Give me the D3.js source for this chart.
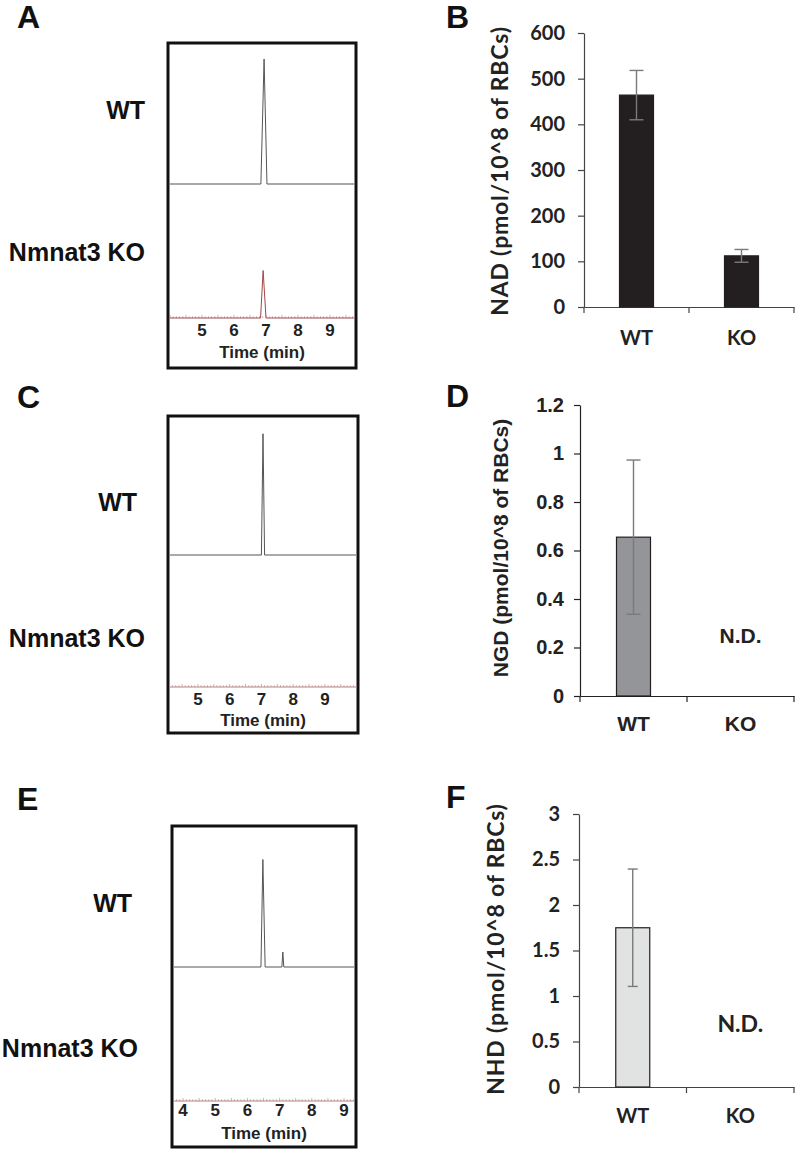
<!DOCTYPE html>
<html><head><meta charset="utf-8">
<script src="https://cdn.jsdelivr.net/npm/d3@7"></script>
<style>html,body{margin:0;padding:0;background:#fff;}svg{display:block;}</style>
</head><body>
<svg id="fig" width="795" height="1150"></svg>
<script>
// ---------------- DATA ----------------
// Chromatogram traces: [time (min), relative intensity (%)]
const traceA_WT = [[4.0,0],[6.84,0],[6.94,100],[7.03,0],[9.75,0]];
const traceA_KO = [[4.0,0],[6.83,0],[6.91,38],[7.0,0],[9.75,0]];
const traceC_WT = [[4.12,0],[7.0,0],[7.05,97],[7.1,0],[9.98,0]];
const traceC_KO = [[4.12,0],[9.98,0]];
const traceE_WT = [[3.72,0],[6.42,0],[6.48,86],[6.55,0],[7.07,0],[7.1,12],[7.13,0],[9.31,0]];
const traceE_KO = [[3.72,0],[9.31,0]];
const timeTicksA = [5,6,7,8,9];
const timeTicksC = [5,6,7,8,9];
const timeTicksE = [4,5,6,7,8,9];
const rowLabels = ["WT","Nmnat3 KO"];
const timeTitle = "Time (min)";

// Bar charts
const groups = ["WT","KO"];
const nadMean = [464, 112];
const nadErr  = [54, 14];
const ngdMean = [0.655, null];
const ngdErr  = [0.318, null];
const nhdMean = [1.75, null];
const nhdErr  = [0.645, null];
const nadTicks = [0,100,200,300,400,500,600];
const ngdTicks = [0,0.2,0.4,0.6,0.8,1,1.2];
const nhdTicks = [0,0.5,1,1.5,2,2.5,3];
const ndLabel = "N.D.";
const panelLetters = ["A","B","C","D","E","F"];

// ---------------- DRAW ----------------
const svg = d3.select("#fig");
const ARIAL = "'Liberation Sans', Arial, sans-serif";
const CALI = "Lato, 'Open Sans', sans-serif";

function letter(t, x, y){
  svg.append("text").attr("x",x).attr("y",y).text(t)
    .attr("font-family",ARIAL).attr("font-weight","bold").attr("font-size",32).attr("fill","#111");
}
letter(panelLetters[0],17,28);
letter(panelLetters[1],446,28);
letter(panelLetters[2],17,408);
letter(panelLetters[3],446,407);
letter(panelLetters[4],17,810);
letter(panelLetters[5],446,808);

let clipId = 0;
function chromatogram(cfg){
  const g = svg.append("g");
  const x = d3.scaleLinear().domain(cfg.domain).range([cfg.left+2, cfg.right-2]);
  const id = "clip"+(clipId++);
  g.append("clipPath").attr("id",id).append("rect")
    .attr("x",cfg.left+1.5).attr("y",cfg.top+1.5)
    .attr("width",cfg.right-cfg.left-3).attr("height",cfg.bottom-cfg.top-3);
  const inner = g.append("g").attr("clip-path",`url(#${id})`);
  const rows = [
    {data: cfg.wt, base: cfg.wtBase, color:"#555", minor:false},
    {data: cfg.ko, base: cfg.koBase, color: cfg.koColor, minor:true}
  ];
  rows.forEach(r=>{
    const y = d3.scaleLinear().domain([0,100]).range([r.base, r.base-125]);
    if(r.minor){
      const mt = d3.range(Math.ceil(cfg.domain[0]*10), Math.floor(cfg.domain[1]*10)+1).map(v=>v/10);
      inner.selectAll(null).data(mt).join("line")
        .attr("x1",d=>x(d)).attr("x2",d=>x(d))
        .attr("y1",r.base).attr("y2",d=>r.base-(Math.round(d*10)%5===0?3:1.8))
        .attr("stroke","#c49a9a").attr("stroke-width",0.8);
    }
    inner.append("path").datum(r.data)
      .attr("d", d3.line().x(d=>x(d[0])).y(d=>y(d[1])))
      .attr("fill","none").attr("stroke",r.color).attr("stroke-width",1)
      .attr("stroke-linejoin","round");
  });
  inner.selectAll(null).data(cfg.ticks).join("text")
    .attr("x",d=>x(d)).attr("y",cfg.tickY).attr("text-anchor","middle")
    .attr("dominant-baseline","central")
    .attr("font-family",ARIAL).attr("font-weight","bold").attr("font-size",17).attr("fill","#222")
    .text(d=>d);
  g.append("text").attr("x",(cfg.left+cfg.right)/2).attr("y",cfg.titleY)
    .attr("text-anchor","middle").attr("dominant-baseline","central")
    .attr("font-family",ARIAL).attr("font-weight","bold").attr("font-size",17).attr("fill","#222")
    .text(timeTitle);
  g.append("rect").attr("x",cfg.left).attr("y",cfg.top)
    .attr("width",cfg.right-cfg.left).attr("height",cfg.bottom-cfg.top)
    .attr("fill","none").attr("stroke","#111").attr("stroke-width",3);
  g.append("text").attr("x",cfg.wtLX).attr("y",cfg.wtLY).attr("text-anchor","end")
    .attr("dominant-baseline","central")
    .attr("font-family",ARIAL).attr("font-weight","bold").attr("font-size",25).attr("fill","#111")
    .text(rowLabels[0]);
  g.append("text").attr("x",cfg.koLX).attr("y",cfg.koLY).attr("text-anchor","end")
    .attr("dominant-baseline","central")
    .attr("font-family",ARIAL).attr("font-weight","bold").attr("font-size",25).attr("fill","#111")
    .text(rowLabels[1]);
}

chromatogram({left:168,right:356,top:43,bottom:368,domain:[4.0,9.75],wt:traceA_WT,ko:traceA_KO,
  wtBase:184,koBase:318,koColor:"#a04848",ticks:timeTicksA,tickY:330,titleY:352,
  wtLX:145,wtLY:110,koLX:145,koLY:252});
chromatogram({left:168,right:358,top:416,bottom:733,domain:[4.12,9.98],wt:traceC_WT,ko:traceC_KO,
  wtBase:555,koBase:687,koColor:"#b98080",ticks:timeTicksC,tickY:699,titleY:720,
  wtLX:137,wtLY:502,koLX:145,koLY:638});
chromatogram({left:172,right:356,top:826,bottom:1147,domain:[3.72,9.31],wt:traceE_WT,ko:traceE_KO,
  wtBase:967,koBase:1101,koColor:"#b98080",ticks:timeTicksE,tickY:1110,titleY:1133,
  wtLX:132,wtLY:903,koLX:138,koLY:1048});

function barChart(cfg){
  const g = svg.append("g");
  const x = d3.scaleBand().domain(groups).range([cfg.x0, cfg.x1]);
  const y = d3.scaleLinear().domain([0, cfg.max]).range([cfg.y0, cfg.yTop]);
  const bw = 34;
  const yAxis = d3.axisLeft(y).tickValues(cfg.ticks).tickFormat(d=>String(d))
    .tickSize(6).tickPadding(cfg.tickPad).tickSizeOuter(0);
  const ya = g.append("g").attr("transform",`translate(${cfg.x0},0)`).call(yAxis);
  ya.select(".domain").attr("stroke",cfg.axisColor).attr("stroke-width",1.2);
  ya.selectAll(".tick line").attr("stroke",cfg.axisColor).attr("stroke-width",1.2);
  ya.selectAll(".tick text").attr("font-family",cfg.font).attr("font-weight","bold")
    .attr("font-size",cfg.tickFont).attr("fill","#222");
  const xAxis = d3.axisBottom(x).tickSize(0).tickPadding(cfg.xPad).tickSizeOuter(0);
  const xa = g.append("g").attr("transform",`translate(0,${cfg.y0})`).call(xAxis);
  xa.select(".domain").attr("stroke",cfg.axisColor).attr("stroke-width",1.2);
  xa.selectAll(".tick text").attr("font-family",cfg.font).attr("font-weight","bold")
    .attr("font-size",cfg.catFont).attr("fill","#222");
  const edges = groups.map(d=>x(d)).concat([x(groups[groups.length-1])+x.bandwidth()]);
  g.selectAll(null).data(edges).join("line")
    .attr("x1",d=>d).attr("x2",d=>d).attr("y1",cfg.y0).attr("y2",cfg.y0+6)
    .attr("stroke",cfg.axisColor).attr("stroke-width",1.2);
  const rows = groups.map((k,i)=>({k, v:cfg.mean[i], e:cfg.err[i]}));
  g.selectAll(null).data(rows.filter(d=>d.v!==null)).join("rect")
    .attr("x",d=>x(d.k)+x.bandwidth()/2-bw/2).attr("width",bw)
    .attr("y",d=>y(d.v)).attr("height",d=>y(0)-y(d.v))
    .attr("fill",cfg.fill).attr("stroke","#231f20").attr("stroke-width",1.2);
  const eb = g.selectAll(null).data(rows.filter(d=>d.v!==null)).join("g");
  eb.append("line").attr("x1",d=>x(d.k)+x.bandwidth()/2).attr("x2",d=>x(d.k)+x.bandwidth()/2)
    .attr("y1",d=>y(d.v+d.e)).attr("y2",d=>y(d.v-d.e)).attr("stroke","#7a7a7a").attr("stroke-width",1.4);
  [1,-1].forEach(s=>{
    eb.append("line").attr("x1",d=>x(d.k)+x.bandwidth()/2-cfg.cap).attr("x2",d=>x(d.k)+x.bandwidth()/2+cfg.cap)
      .attr("y1",d=>y(d.v+s*d.e)).attr("y2",d=>y(d.v+s*d.e)).attr("stroke","#7a7a7a").attr("stroke-width",1.4);
  });
  g.selectAll(null).data(rows.filter(d=>d.v===null)).join("text")
    .attr("x",d=>x(d.k)+x.bandwidth()/2).attr("y",cfg.ndY).attr("text-anchor","middle")
    .attr("dominant-baseline","central")
    .attr("font-family",cfg.font).attr("font-weight","bold").attr("font-size",cfg.ndFont).attr("fill","#222")
    .text(ndLabel);
  g.append("text").attr("transform",`translate(${cfg.titleX},${cfg.titleY}) rotate(-90)`)
    .attr("text-anchor","middle").attr("dominant-baseline","central")
    .attr("font-family",cfg.font).attr("font-weight","bold").attr("font-size",cfg.titleFont)
    .attr("letter-spacing",cfg.titleLS).attr("fill","#222")
    .text(cfg.title);
}

barChart({x0:584,x1:794,y0:307,yTop:33,max:600,ticks:nadTicks,mean:nadMean,err:nadErr,
  fill:"#231f20",font:CALI,tickFont:20,catFont:20,tickPad:13,xPad:24,axisColor:"#444",cap:7,
  title:"NAD (pmol/10^8 of RBCs)",titleX:499,titleY:171,titleFont:23,titleLS:0.8,ndY:0,ndFont:22});
barChart({x0:580,x1:794,y0:696,yTop:405,max:1.2,ticks:ngdTicks,mean:ngdMean,err:ngdErr,
  fill:"#939598",font:ARIAL,tickFont:20,catFont:21,tickPad:10,xPad:20,axisColor:"#222",cap:7,
  title:"NGD (pmol/10^8 of RBCs)",titleX:500,titleY:548,titleFont:21,titleLS:0,ndY:635,ndFont:21});
barChart({x0:579,x1:794,y0:1087,yTop:814,max:3,ticks:nhdTicks,mean:nhdMean,err:nhdErr,
  fill:"#e1e2e2",font:CALI,tickFont:20,catFont:20,tickPad:13,xPad:22,axisColor:"#444",cap:5,
  title:"NHD (pmol/10^8 of RBCs)",titleX:495,titleY:949,titleFont:23,titleLS:0.8,ndY:1023,ndFont:23});
</script>
</body></html>
